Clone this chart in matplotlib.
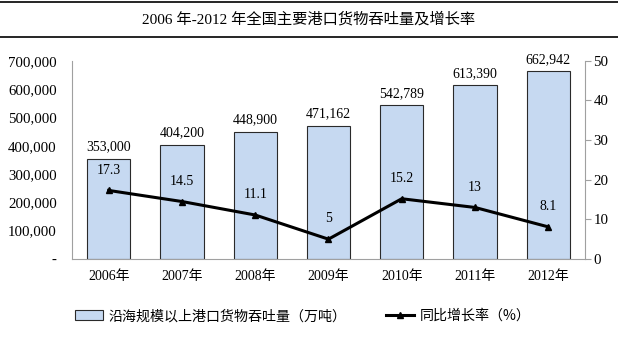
import matplotlib
matplotlib.use("Agg")
import matplotlib.pyplot as plt
from matplotlib.lines import Line2D
from matplotlib.ticker import FuncFormatter, MultipleLocator

plt.rcParams['font.family'] = ['Liberation Serif', 'Noto Sans CJK SC']

years = ['2006年', '2007年', '2008年', '2009年', '2010年', '2011年', '2012年']
throughput = [353000, 404200, 448900, 471162, 542789, 613390, 662942]
growth = [17.3, 14.5, 11.1, 5, 15.2, 13, 8.1]
title = '2006 年-2012 年全国主要港口货物吞吐量及增长率'
bar_label = '沿海规模以上港口货物吞吐量（万吨）'
line_label = '同比增长率（%）'

fig = plt.figure(figsize=(6.18, 3.37), dpi=100)
ax = fig.add_axes([0.1165, 0.2315, 0.83, 0.588])
ax2 = ax.twinx()

x = list(range(len(years)))
bars = ax.bar(x, throughput, width=0.59, color='#C6D9F1', edgecolor='#2a2a2a', linewidth=0.8, label=bar_label, zorder=2)
ax.set_xlim(-0.5, len(years) - 0.5)
ax.set_ylim(0, 700000)
ax.yaxis.set_major_locator(MultipleLocator(100000))
ax.yaxis.set_major_formatter(FuncFormatter(lambda v, p: '-' if v == 0 else f'{int(v):,}'))
ax.set_xticks(x)
ax.set_xticklabels(years)
ax.tick_params(axis='x', length=0, labelsize=10, pad=8)
ax.tick_params(axis='y', length=0, labelsize=10.7, pad=11)
for s in ['top', 'right']:
    ax.spines[s].set_visible(False)
ax.spines['left'].set_color('#A0A0A0')
ax.spines['bottom'].set_color('#A0A0A0')

for xi, v in zip(x, throughput):
    ax.annotate(f'{v:,}', (xi, v), xytext=(0, 4), textcoords='offset points',
                ha='center', va='bottom', fontsize=10)

ax2.plot(x, growth, color='black', linewidth=2.2, marker='^', markersize=5, label=line_label, zorder=3)
ax2.set_ylim(0, 50)
ax2.yaxis.set_major_locator(MultipleLocator(10))
ax2.tick_params(axis='y', length=4, color='#A0A0A0', labelsize=10.7, pad=2)
for s in ['top', 'left', 'bottom']:
    ax2.spines[s].set_visible(False)
ax2.spines['right'].set_color('#A0A0A0')

for xi, v in zip(x, growth):
    ax2.annotate(f'{v:g}', (xi, v), xytext=(0, 10), textcoords='offset points',
                 ha='center', va='bottom', fontsize=10)

fig.text(0.5, 0.944, title, ha='center', va='center', fontsize=11)
fig.add_artist(Line2D([0, 1], [1 - 1.5 / 337, 1 - 1.5 / 337], color='black', linewidth=1.2))
fig.add_artist(Line2D([0, 1], [1 - 37 / 337, 1 - 37 / 337], color='black', linewidth=1.2))

handles = [bars, ax2.get_lines()[0]]
fig.legend(handles, [bar_label, line_label], loc='center', bbox_to_anchor=(0.49, 0.062),
           ncol=2, frameon=False, columnspacing=2.8, handlelength=2.0,
           handletextpad=0.4, prop={'family': ['Noto Sans CJK SC'], 'size': 10.1})

fig.savefig('out.png', dpi=100)
